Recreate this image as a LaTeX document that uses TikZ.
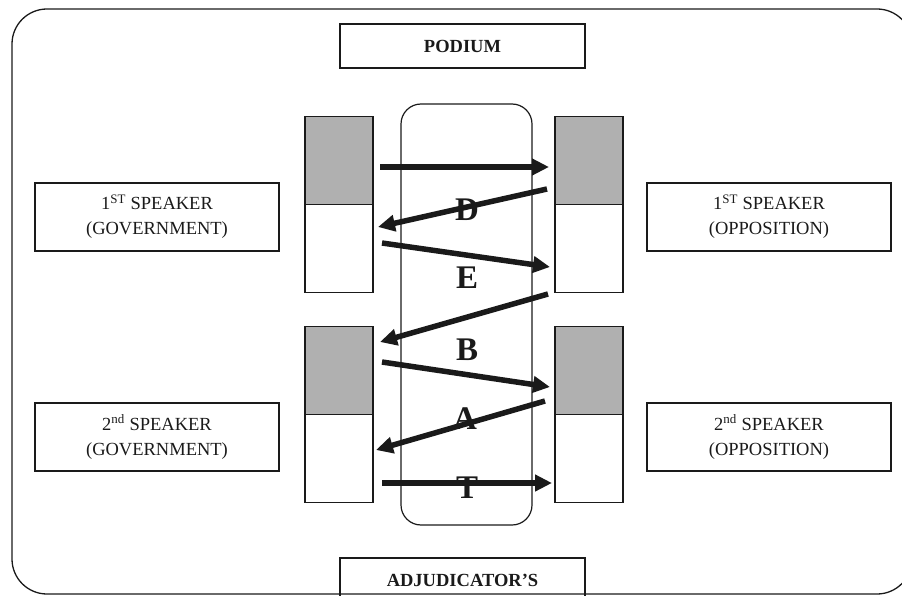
\documentclass[tikz,border=0pt]{standalone}
\usepackage{fontspec}
\setmainfont{Liberation Serif}
\usetikzlibrary{positioning,arrows.meta}

\definecolor{ink}{HTML}{1A1A1A}
\definecolor{benchgray}{HTML}{B0B0B0}

\tikzset{
  namebox/.style={draw=ink, line width=1.1pt, minimum width=244pt, minimum height=68pt,
    inner sep=0pt, align=center, text=ink, font=\fontsize{18.5}{25}\selectfont},
  headbox/.style={namebox, minimum width=245pt, minimum height=44pt,
    font=\fontsize{18.5}{22}\selectfont\bfseries},
  cell/.style={draw=ink, line width=1.3pt, minimum width=68pt, minimum height=88pt,
    inner sep=0pt, outer sep=0pt},
  turn/.style={draw=ink, line width=5.5pt, -{Triangle[length=17pt,width=16pt]}},
  letter/.style={text=ink, inner sep=0pt, font=\fontsize{33}{33}\selectfont\bfseries},
}

\begin{document}
\begin{tikzpicture}[x=1pt, y=-1pt]
  \useasboundingbox (0,0) rectangle (902,596);
  % outer frame
  \draw[ink, line width=1.3pt, rounded corners=35pt] (12,9) rectangle (912,594);

  \node[headbox] (podium) at (462.5,46) {PODIUM};
  \node[headbox] (adjud) at (462.5,580) {ADJUDICATOR’S};

  \node[namebox] (gov1) at (157,217) {1\textsuperscript{ST} SPEAKER\\(GOVERNMENT)};
  \node[namebox] (opp1) at (769,217) {1\textsuperscript{ST} SPEAKER\\(OPPOSITION)};
  \node[namebox] (gov2) at (157,437) {2\textsuperscript{nd} SPEAKER\\(GOVERNMENT)};
  \node[namebox] (opp2) at (769,437) {2\textsuperscript{nd} SPEAKER\\(OPPOSITION)};

  % floor between the benches
  \node[draw=ink, line width=1.2pt, rounded corners=20pt, minimum width=131pt,
    minimum height=421pt, inner sep=0pt] (floor) at (466.5,314.5) {};

  % benches
  \node[cell, fill=benchgray] (g1top) at (339,160.5) {};
  \node[cell, below=0pt of g1top] (g1bot) {};
  \node[cell, fill=benchgray] (o1top) at (589,160.5) {};
  \node[cell, below=0pt of o1top] (o1bot) {};
  \node[cell, fill=benchgray] (g2top) at (339,370.5) {};
  \node[cell, below=0pt of g2top] (g2bot) {};
  \node[cell, fill=benchgray] (o2top) at (589,370.5) {};
  \node[cell, below=0pt of o2top] (o2bot) {};

  \node[letter] (lD) at (467,210) {D};
  \node[letter] (lE) at (467,278) {E};
  \node[letter] (lB) at (467,350) {B};
  \node[letter] (lA) at (465,419) {A};
  \node[letter] (lT) at (467,488) {T};

  \draw[turn] ([xshift=7pt,yshift=-6.5pt]g1top.east) -- ([xshift=-6pt,yshift=-6.5pt]o1top.west);
  \draw[turn] ([xshift=-8pt,yshift=-28.5pt]o1top.west) -- ([xshift=5pt,yshift=21.5pt]g1bot.east);
  \draw[turn] ([xshift=9pt,yshift=5.5pt]g1bot.east) -- ([xshift=-5pt,yshift=-18.5pt]o1bot.west);
  \draw[turn] ([xshift=-7pt,yshift=-45.5pt]o1bot.west) -- ([xshift=7pt,yshift=28.5pt]g2top.east);
  \draw[turn] ([xshift=9pt,yshift=8.5pt]g2top.east) -- ([xshift=-5pt,yshift=-16.5pt]o2top.west);
  \draw[turn] ([xshift=-10pt,yshift=-30.5pt]o2top.west) -- ([xshift=3pt,yshift=8.5pt]g2bot.east);
  \draw[turn] ([xshift=9pt,yshift=-24.5pt]g2bot.east) -- ([xshift=-3pt,yshift=-24.5pt]o2bot.west);
\end{tikzpicture}
\end{document}
